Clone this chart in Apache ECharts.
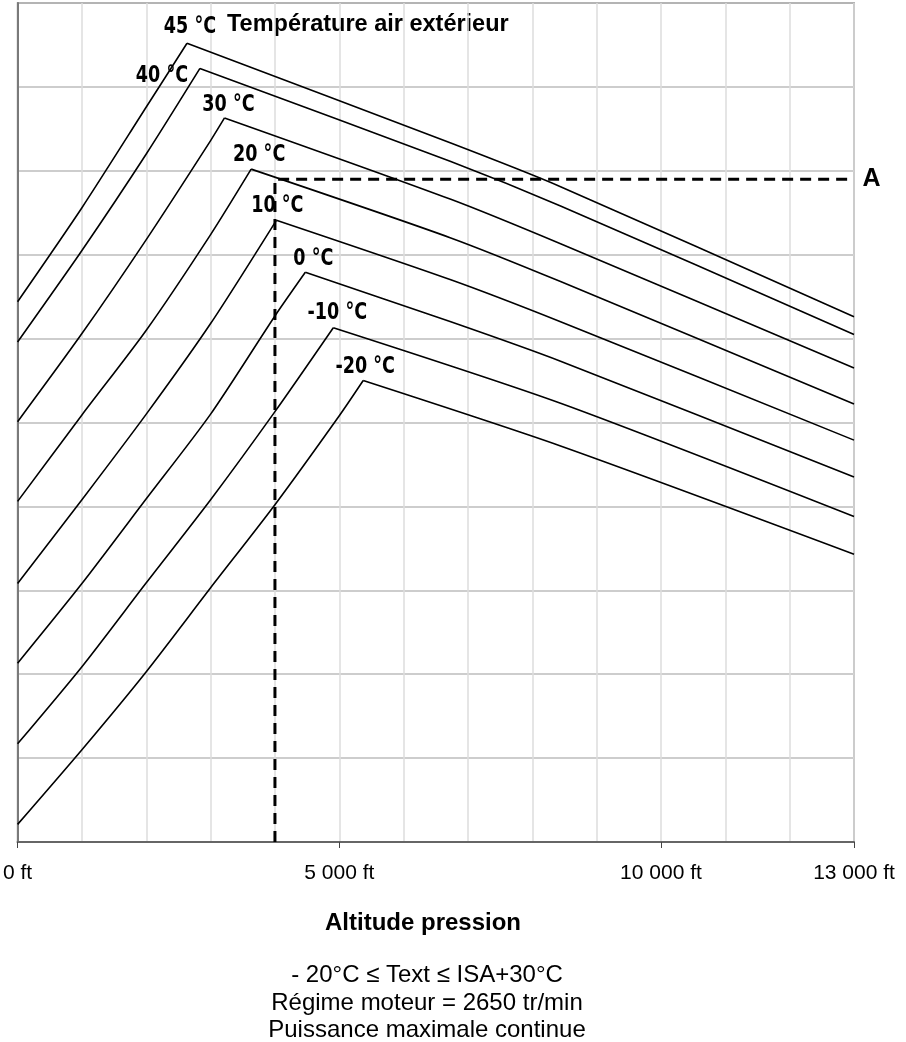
<!DOCTYPE html>
<html><head><meta charset="utf-8">
<script src="https://cdn.jsdelivr.net/npm/echarts@6/dist/echarts.min.js"></script>
<style>html,body{margin:0;padding:0;background:#fff}#c{width:906px;height:1042px}</style>
</head><body><div id="c"></div>
<script>
// ---- data (altitude in ft, power in arbitrary units 0..100) ----
const labels = ['45 °C','40 °C','30 °C','20 °C','10 °C','0 °C','-10 °C','-20 °C'];
const alt_p45 = [0, 1000, 2000, 2633, 6733, 8439, 13000];
const pw_p45  = [64.4, 75.6, 87.6, 95.2, 83.3, 78.1, 62.6];
const alt_p40 = [0, 1000, 2000, 2834, 6733, 8439, 13000];
const pw_p40  = [59.6, 70.5, 82.0, 92.2, 81.1, 75.8, 60.5];
const alt_p30 = [0, 1000, 2000, 3000, 3216, 6733, 8439, 13000];
const pw_p30  = [50.1, 60.6, 71.8, 83.6, 86.3, 76.6, 71.3, 56.5];
const alt_p20 = [0, 1000, 2000, 3000, 3630, 6733, 8439, 13000];
const pw_p20  = [40.6, 50.9, 61.0, 72.4, 80.2, 72.0, 66.8, 52.2];
const alt_p10 = [0, 1000, 2000, 3000, 4022, 6733, 8439, 13000];
const pw_p10  = [30.8, 40.8, 51.0, 61.8, 74.1, 67.0, 62.0, 47.9];
const alt_0   = [0, 1000, 2000, 3000, 4000, 4472, 6733, 8439, 13000];
const pw_0    = [21.3, 30.8, 40.9, 51.0, 62.7, 67.9, 62.0, 57.3, 43.5];
const alt_m10 = [0, 1000, 2000, 3000, 4000, 4907, 8439, 13000];
const pw_m10  = [11.7, 20.9, 30.9, 40.8, 51.3, 61.3, 52.3, 38.8];
const alt_m20 = [0, 1000, 2000, 3000, 4000, 5000, 5372, 8439, 13000];
const pw_m20  = [2.1, 11.0, 20.3, 30.3, 40.2, 50.8, 55.0, 47.2, 34.3];
const guide_alt = [4000, 4000, 12900];
const guide_pw  = [0, 79.0, 79.0];
const xTicks = [0, 5000, 10000, 13000];
const guideLabel = 'A';
const headerText = 'Température air extérieur';
const axisTitle = 'Altitude pression';
const notes = ['- 20°C \u2264 Text \u2264 ISA+30°C', 'Régime moteur = 2650 tr/min', 'Puissance maximale continue'];

const curves = [
  [alt_p45, pw_p45], [alt_p40, pw_p40], [alt_p30, pw_p30], [alt_p20, pw_p20],
  [alt_p10, pw_p10], [alt_0, pw_0], [alt_m10, pw_m10], [alt_m20, pw_m20]
];
// label offsets (px) of each label centre relative to its curve's peak
const labelOffsets = [[3,-16],[-38,8],[4,-13],[8,-14],[1,-14],[8,-13],[4,-15],[2,-14]];

const zip = (a, b) => a.map((v, i) => [v, b[i]]);
const fmtFt = v => String(v).replace(/\B(?=(\d{3})+(?!\d))/g, ' ') + ' ft';
const SANS = '"Liberation Sans", Arial, sans-serif';
const peakIndex = ys => { let pk = 0; ys.forEach((v, j) => { if (v > ys[pk]) pk = j; }); return pk; };

const series = [];
curves.forEach((c, i) => {
  const data = zip(c[0], c[1]);
  const pk = peakIndex(c[1]);
  [data.slice(0, pk + 1), data.slice(pk)].forEach(part => {
    series.push({
      type: 'line', name: labels[i], data: part, symbol: 'none', silent: true,
      smooth: 0.25,
      lineStyle: { color: '#000', width: 1.6 }
    });
  });
});
series.push({
  type: 'line', data: zip(guide_alt, guide_pw), symbol: 'none', silent: true,
  lineStyle: { color: '#000', width: 3, type: [11, 7] },
  endLabel: { show: true, formatter: guideLabel, distance: 15, color: '#000',
    fontFamily: SANS, fontWeight: 'bold', fontSize: 25 }
});

const staticGraphics = [
  { id: 'hdr', type: 'text', x: 227, y: 25, style: { text: headerText, fill: '#000', verticalAlign: 'middle',
    font: 'bold 23.5px ' + SANS } },
  { id: 'ttl', type: 'text', x: 423, y: 923, style: { text: axisTitle, fill: '#000', align: 'center', verticalAlign: 'middle',
    font: 'bold 24px ' + SANS } },
  { id: 'n0', type: 'text', x: 427, y: 975, style: { text: notes[0], fill: '#000', align: 'center', verticalAlign: 'middle',
    font: '24px ' + SANS } },
  { id: 'n1', type: 'text', x: 427, y: 1003, style: { text: notes[1], fill: '#000', align: 'center', verticalAlign: 'middle',
    font: '24px ' + SANS } },
  { id: 'n2', type: 'text', x: 427, y: 1030, style: { text: notes[2], fill: '#000', align: 'center', verticalAlign: 'middle',
    font: '24px ' + SANS } }
];

const chart = echarts.init(document.getElementById('c'), null, { renderer: 'canvas' });
chart.setOption({
  animation: false,
  backgroundColor: '#fff',
  grid: { left: 16, right: 52, top: 3, bottom: 200, show: true, borderColor: '#7a7a7a', borderWidth: 1.5 },
  xAxis: [{
    type: 'value', min: 0, max: 13000, interval: 1000, z: 3,
    axisLine: { show: true, lineStyle: { color: '#666', width: 2 } },
    axisTick: { show: true, customValues: xTicks, length: 6, lineStyle: { color: '#444' } },
    axisLabel: { customValues: xTicks, formatter: fmtFt, margin: 21, color: '#000',
      fontFamily: SANS, fontSize: 21 },
    splitLine: { show: false }
  }, {
    type: 'value', min: 0, max: 13000, interval: 1000, position: 'bottom',
    axisLine: { show: false }, axisTick: { show: false }, axisLabel: { show: false },
    splitLine: { show: true, lineStyle: { color: '#dcdcdc', width: 1.5 } }
  }],
  yAxis: {
    type: 'value', min: 0, max: 100, interval: 10,
    axisLine: { show: true, lineStyle: { color: '#7a7a7a', width: 2 } },
    axisTick: { show: false }, axisLabel: { show: false },
    splitLine: { show: true, lineStyle: { color: '#bdbdbd', width: 1.5 } }
  },
  graphic: staticGraphics,
  series: series
});

// temperature labels placed next to each curve's peak, using the chart's own scales
const tempLabels = curves.map((c, i) => {
  const pk = peakIndex(c[1]);
  const p = chart.convertToPixel({ xAxisIndex: 0, yAxisIndex: 0 }, [c[0][pk], c[1][pk]]);
  return {
    id: 't' + i, type: 'text', x: p[0] + labelOffsets[i][0], y: p[1] + labelOffsets[i][1],
    scaleX: 0.85, z: 10,
    style: { text: labels[i], x: 0, y: 0, align: 'center', verticalAlign: 'middle', fill: '#000',
      font: 'bold 23px "DejaVu Sans Condensed", "DejaVu Sans", sans-serif' }
  };
});
chart.setOption({ graphic: staticGraphics.concat(tempLabels) });
</script></body></html>
